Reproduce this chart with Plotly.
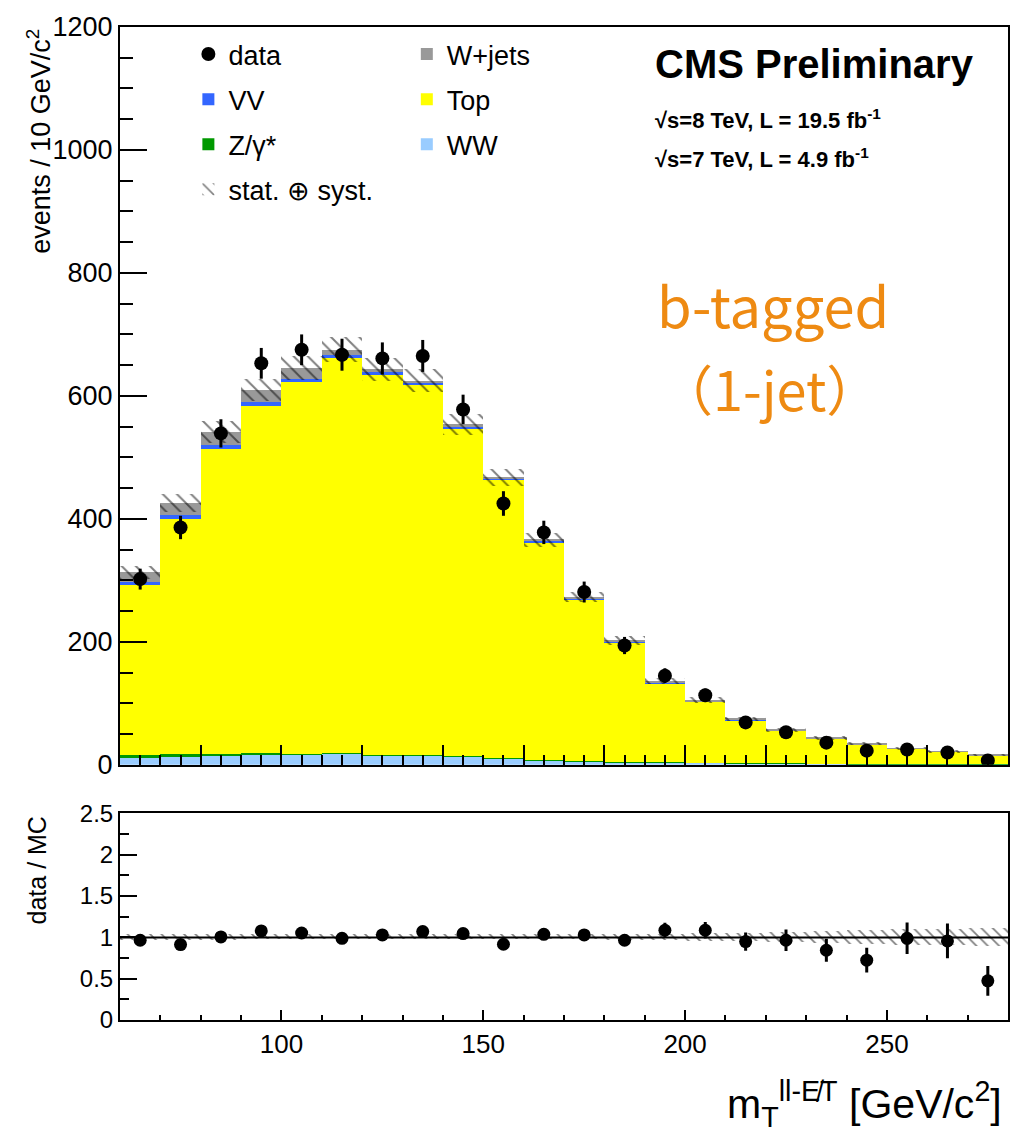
import numpy as np
import plotly.graph_objects as go

# ---------------- data ----------------
bin_centers = [65, 75, 85, 95, 105, 115, 125, 135, 145, 155, 165,
               175, 185, 195, 205, 215, 225, 235, 245, 255, 265, 275]
bin_width = 10

ww = [11, 12, 14.5, 17.5, 16.5, 18.5, 15.5, 15.5, 13, 10, 7.5,
      6, 4.5, 3.5, 3, 2, 1.8, 1.5, 1, 1, 0.9, 0.5]
zgamma = [5, 5, 3.5, 2.3, 1.7, 1.3, 1.1, 1.1, 1, 0.8, 0.5,
          0.5, 0.5, 0.5, 0.5, 0.5, 0.4, 0.3, 0.3, 0.2, 0.2, 0.1]
top = [276, 383, 496, 563, 604, 642, 618, 602, 533, 453, 354,
       262, 194, 129, 99, 70, 53, 41, 32, 25, 20, 15]
vv = [5, 6, 6, 7, 6, 4.5, 3.5, 3, 2.5, 2, 2,
      2, 1.5, 1.2, 1, 0.8, 0.6, 0.5, 0.4, 0.3, 0.3, 0.2]
wjets = [16, 20, 22, 20, 17, 9, 5, 3, 4, 1, 2,
         2, 2, 2, 1.5, 1.2, 1, 0.8, 0.6, 0.5, 0.4, 0.3]

data = [302, 386, 539, 653, 675, 667, 661, 665, 578, 425, 378,
        281, 194, 145, 113, 69, 53, 36, 23, 25, 20, 7]
data_err = [17, 19, 23, 25, 25, 26, 26, 26, 24, 20, 19,
            17, 14, 12, 11, 8, 7, 6, 5, 5, 4.5, 2.6]

unc_rel = [0.035, 0.035, 0.033, 0.03, 0.03, 0.03, 0.03, 0.03, 0.03, 0.03, 0.03,
           0.03, 0.035, 0.04, 0.045, 0.05, 0.06, 0.07, 0.08, 0.1, 0.1, 0.11]

ratio = [0.965, 0.913, 1.005, 1.078, 1.053, 0.989, 1.03, 1.07, 1.046, 0.917, 1.037,
         1.03, 0.965, 1.086, 1.086, 0.949, 0.965, 0.844, 0.724, 0.989, 0.957, 0.474]
ratio_err = [0.06, 0.05, 0.045, 0.045, 0.04, 0.04, 0.04, 0.04, 0.045, 0.05, 0.055,
             0.065, 0.07, 0.09, 0.1, 0.11, 0.13, 0.14, 0.15, 0.19, 0.21, 0.18]

FONT = "Liberation Sans, Arial, Helvetica, sans-serif"

fig = go.Figure()

# ---------------- stacked MC ----------------
layers = [
    ("WW", ww, "#99CCFF", "legend2", 3),
    ("Z/γ*", zgamma, "#009900", "legend", 3),
    ("Top", top, "#FFFF00", "legend2", 2),
    ("VV", vv, "#3366FF", "legend", 2),
    ("W+jets", wjets, "#999999", "legend2", 1),
]
base = np.zeros(len(bin_centers))
for name, vals, color, leg, rank in layers:
    vals = np.array(vals, dtype=float)
    fig.add_trace(go.Bar(
        x=bin_centers, y=vals, base=base.copy(), width=bin_width,
        marker=dict(color=color, line=dict(width=0)),
        name=name, legend=leg, legendrank=rank, legendgroup=name,
        xaxis="x", yaxis="y", hoverinfo="skip"))
    base = base + vals
total = base
unc = total * np.array(unc_rel)

hatch = dict(shape="\\", fgcolor="black", bgcolor="rgba(0,0,0,0)", size=10, solidity=0.2)
fig.add_trace(go.Bar(
    x=bin_centers, y=2 * unc, base=total - unc, width=bin_width,
    marker=dict(color="rgba(0,0,0,0)", line=dict(width=0), pattern=hatch),
    name="stat. ⊕ syst.", legend="legend", legendrank=4, legendgroup="unc",
    xaxis="x", yaxis="y", hoverinfo="skip"))

fig.add_trace(go.Scatter(
    x=bin_centers, y=data, mode="markers",
    marker=dict(color="black", size=14),
    error_y=dict(type="data", array=data_err, color="black", thickness=3, width=0),
    name="data", legend="legend", legendrank=1, legendgroup="data",
    xaxis="x", yaxis="y"))

# ---------------- ratio pad ----------------
rel = np.array(unc_rel)
fig.add_trace(go.Bar(
    x=bin_centers, y=2 * rel, base=1 - rel, width=bin_width,
    marker=dict(color="rgba(0,0,0,0)", line=dict(width=0), pattern=dict(hatch, size=8, solidity=0.22)),
    showlegend=False, xaxis="x2", yaxis="y2", hoverinfo="skip"))
fig.add_shape(type="line", xref="x2 domain", yref="y2", x0=0, x1=1, y0=1, y1=1,
              line=dict(color="black", width=2))
fig.add_trace(go.Scatter(
    x=bin_centers, y=ratio, mode="markers",
    marker=dict(color="black", size=13),
    error_y=dict(type="data", array=ratio_err, color="black", thickness=3, width=0),
    showlegend=False, xaxis="x2", yaxis="y2"))

axis_common = dict(showline=True, mirror=True, linecolor="black", linewidth=2,
                   showgrid=False, zeroline=False, ticks="inside",
                   tickcolor="black", tickwidth=1.5)

legend_common = dict(xanchor="left", yanchor="top", bgcolor="rgba(0,0,0,0)",
                     font=dict(family=FONT, size=27, color="black"),
                     traceorder="grouped", tracegroupgap=7, itemwidth=30)

fig.update_layout(
    width=1023, height=1140,
    margin=dict(l=120, r=15, t=20, b=120),
    plot_bgcolor="white", paper_bgcolor="white",
    barmode="overlay", bargap=0,
    font=dict(family=FONT, size=27, color="black"),
    xaxis=dict(axis_common, domain=[0, 1], anchor="y", range=[60, 280],
               showticklabels=False, tick0=0, dtick=20, ticklen=20,
               minor=dict(ticks="inside", dtick=5, ticklen=10, tickcolor="black", tickwidth=1.5)),
    yaxis=dict(axis_common, domain=[0.257, 1], anchor="x", range=[0, 1200],
               tick0=0, dtick=200, ticklen=27, tickfont=dict(size=27),
               minor=dict(ticks="inside", dtick=50, ticklen=13, tickcolor="black", tickwidth=1.5)),
    xaxis2=dict(axis_common, domain=[0, 1], anchor="y2", range=[60, 280],
                tick0=0, dtick=50, ticklen=10, tickfont=dict(size=26),
                minor=dict(ticks="inside", dtick=10, ticklen=5, tickcolor="black", tickwidth=1.5)),
    yaxis2=dict(axis_common, domain=[0, 0.208], anchor="x2", range=[0, 2.5],
                tick0=0, dtick=0.5, ticklen=17, tickfont=dict(size=24),
                minor=dict(ticks="inside", dtick=0.25, ticklen=9, tickcolor="black", tickwidth=1.5)),
    legend=dict(legend_common, x=0.077, y=0.997),
    legend2=dict(legend_common, x=0.323, y=0.997),
)

annotations = [
    dict(text="events / 10 GeV/c<sup>2</sup>", x=-0.092, y=1.0, xref="paper", yref="paper",
         xanchor="center", yanchor="top", textangle=-90, showarrow=False,
         font=dict(family=FONT, size=27)),
    dict(text="data / MC", x=-0.093, y=0.151, xref="paper", yref="paper",
         xanchor="center", yanchor="middle", textangle=-90, showarrow=False,
         font=dict(family=FONT, size=25)),
    dict(text="m<sub>T</sub><sup>ll-E̸T</sup> [GeV/c<sup>2</sup>]", x=0.996, y=-0.085,
         xref="paper", yref="paper", xanchor="right", yanchor="middle", showarrow=False,
         font=dict(family=FONT, size=41)),
    dict(text="<b>CMS Preliminary</b>", x=0.600, y=0.963, xref="paper", yref="paper",
         xanchor="left", yanchor="middle", showarrow=False,
         font=dict(family=FONT, size=40)),
    dict(text="<b>√s=8 TeV, L = 19.5 fb<sup>-1</sup></b>", x=0.600, y=0.907, xref="paper",
         yref="paper", xanchor="left", yanchor="middle", showarrow=False,
         font=dict(family=FONT, size=22)),
    dict(text="<b>√s=7 TeV, L = 4.9 fb<sup>-1</sup></b>", x=0.600, y=0.868, xref="paper",
         yref="paper", xanchor="left", yanchor="middle", showarrow=False,
         font=dict(family=FONT, size=22)),
    dict(text="b-tagged", x=0.735, y=0.722, xref="paper", yref="paper",
         xanchor="center", yanchor="middle", showarrow=False,
         font=dict(family="Noto Sans CJK JP", size=56, color="#EE8A12")),
    dict(text="（1-jet）", x=0.731, y=0.637, xref="paper", yref="paper",
         xanchor="center", yanchor="middle", showarrow=False,
         font=dict(family="Noto Sans CJK JP", size=54, color="#EE8A12")),
]
fig.update_layout(annotations=annotations)

fig.write_html("out.html", config={"displayModeBar": False},
               post_script="document.body.style.margin='0';")
